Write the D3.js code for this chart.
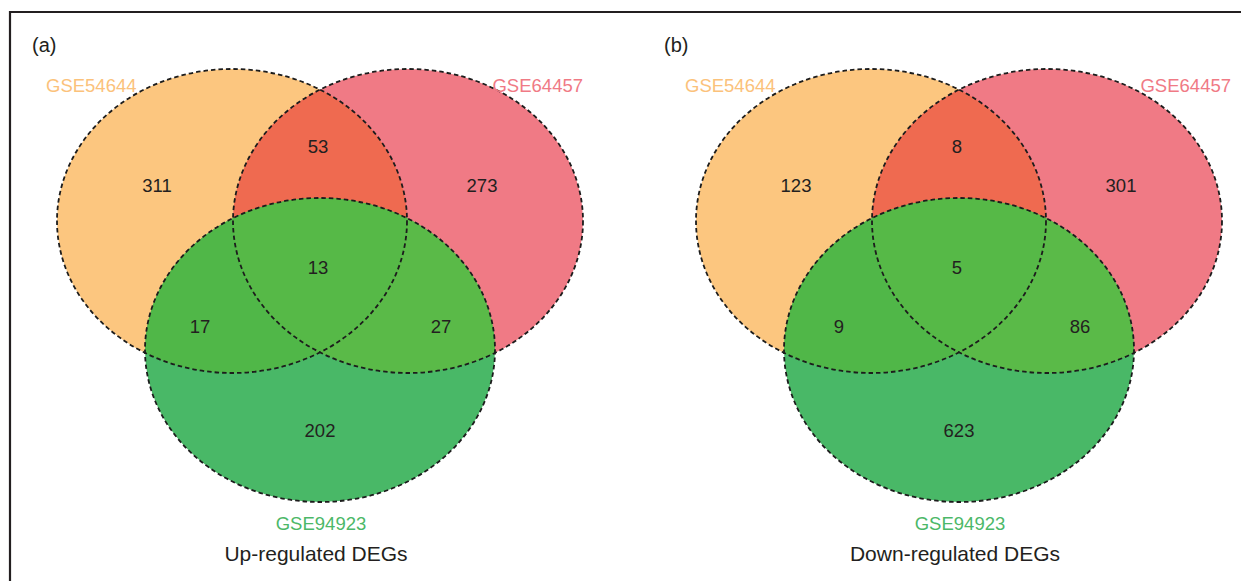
<!DOCTYPE html>
<html>
<head>
<meta charset="utf-8">
<script src="https://cdn.jsdelivr.net/npm/d3@7"></script>
<style>
  html, body { margin: 0; padding: 0; background: #fff; }
  svg { display: block; }
  text { font-family: "Liberation Sans", Arial, Helvetica, sans-serif; }
</style>
</head>
<body>
<svg id="chart" width="1241" height="581"></svg>
<script>
// Three-set Venn diagrams of differentially expressed genes
const panelTags = ["(a)", "(b)"];
const panelTitles = ["Up-regulated DEGs", "Down-regulated DEGs"];
const setNames = ["GSE54644", "GSE64457", "GSE94923"];
const regionKeys = ["A", "AB", "B", "ABC", "AC", "BC", "C"];
const upCounts = [311, 53, 273, 13, 17, 27, 202];
const downCounts = [123, 8, 301, 5, 9, 86, 623];
const panelCounts = [upCounts, downCounts];

const svg = d3.select("#chart");
const W = 1241, H = 581;

// frame (top and left edges)
svg.append("path")
  .attr("d", `M${W},12 H10 V${H}`)
  .attr("fill", "none")
  .attr("stroke", "#231f20")
  .attr("stroke-width", 2.2);

// layout in local units: x relative to the panel centre, y absolute
const panelCentre = [320, 959];
const ellipses = [
  { key: "A", dx: -88, cy: 221, fill: "#fcc67f" },
  { key: "B", dx: 88, cy: 221, fill: "#f07a85" },
  { key: "C", dx: 0, cy: 350, fill: "#49b867" }
];
const RX = 175, RY = 152;

const regionPos = {
  A: [-163, 185], AB: [-2, 146], B: [162, 185],
  ABC: [-2, 267], AC: [-120, 326], BC: [121, 326], C: [0, 430]
};

const setColours = ["#fbc27b", "#f07a85", "#4cb868"];

const defs = svg.append("defs");

panelTags.forEach((tag, p) => {
  const x = d3.scaleLinear().domain([0, 1]).range([panelCentre[p], panelCentre[p] + 1]);
  const g = svg.append("g");
  const ell = ellipses.map(e => ({ ...e, cx: x(e.dx) }));

  // clip paths for each set
  ell.forEach(e => {
    defs.append("clipPath").attr("id", `clip${e.key}${p}`)
      .append("ellipse")
      .attr("cx", e.cx).attr("cy", e.cy).attr("rx", RX).attr("ry", RY);
  });
  // nested clip: inside A and B
  defs.append("clipPath").attr("id", `clipAB${p}`)
    .attr("clip-path", `url(#clipA${p})`)
    .append("ellipse")
    .attr("cx", ell[1].cx).attr("cy", ell[1].cy).attr("rx", RX).attr("ry", RY);

  const drawEllipse = (e, fill, clip) => {
    const el = g.append("ellipse")
      .attr("cx", e.cx).attr("cy", e.cy).attr("rx", RX).attr("ry", RY)
      .attr("fill", fill);
    if (clip) el.attr("clip-path", `url(#${clip})`);
  };

  drawEllipse(ell[0], ell[0].fill);
  drawEllipse(ell[1], ell[1].fill);
  drawEllipse(ell[1], "#ef6a50", `clipA${p}`);
  drawEllipse(ell[2], ell[2].fill);
  drawEllipse(ell[2], "#50b748", `clipA${p}`);
  drawEllipse(ell[2], "#5aba48", `clipB${p}`);
  drawEllipse(ell[2], "#56b947", `clipAB${p}`);

  // dashed outlines
  g.selectAll("ellipse.outline").data(ell).join("ellipse")
    .attr("class", "outline")
    .attr("cx", d => d.cx).attr("cy", d => d.cy)
    .attr("rx", RX).attr("ry", RY)
    .attr("fill", "none")
    .attr("stroke", "#1c1c1c")
    .attr("stroke-width", 1.8)
    .attr("stroke-dasharray", "4.5,3");

  // region counts
  g.selectAll("text.count").data(regionKeys).join("text")
    .attr("class", "count")
    .attr("x", k => x(regionPos[k][0]))
    .attr("y", k => regionPos[k][1])
    .attr("text-anchor", "middle")
    .attr("dominant-baseline", "central")
    .attr("font-size", 18.5)
    .attr("fill", "#231f20")
    .text((k, i) => panelCounts[p][i]);

  // panel tag
  g.append("text")
    .attr("x", x(p === 0 ? -288 : -295)).attr("y", 52)
    .attr("font-size", 20).attr("fill", "#231f20")
    .text(tag);

  // set names
  g.append("text")
    .attr("x", x(-274)).attr("y", 92)
    .attr("font-size", 18.5).attr("fill", setColours[0])
    .text(setNames[0]);
  g.append("text")
    .attr("x", x(p === 0 ? 263 : 272)).attr("y", 92)
    .attr("text-anchor", "end")
    .attr("font-size", 18.5).attr("fill", setColours[1])
    .text(setNames[1]);
  g.append("text")
    .attr("x", x(1)).attr("y", 530)
    .attr("text-anchor", "middle")
    .attr("font-size", 18.5).attr("fill", setColours[2])
    .text(setNames[2]);

  // panel title
  g.append("text")
    .attr("x", x(-4)).attr("y", 561)
    .attr("text-anchor", "middle")
    .attr("font-size", 21).attr("fill", "#231f20")
    .text(panelTitles[p]);
});
</script>
</body>
</html>
